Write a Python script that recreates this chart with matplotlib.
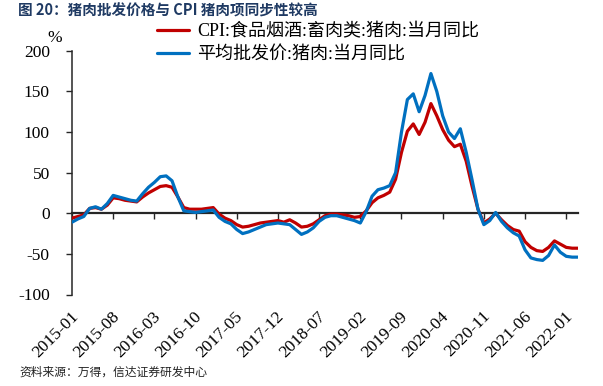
import numpy as np
import matplotlib
matplotlib.use('Agg')
import matplotlib.pyplot as plt
from matplotlib.transforms import ScaledTranslation

plt.rcParams['axes.unicode_minus'] = False

# CPI: food & tobacco & liquor: livestock meat: pork, YoY (%), monthly 2015-01 .. 2022-03
cpi_pork = [-6, -4, -2, 6, 7, 5, 10, 19, 18, 16, 15, 14,
            20, 25, 29, 33, 34, 32, 20, 7, 5, 5, 5, 6,
            7, -1, -6, -9, -14, -17, -16, -14, -12, -11, -10, -9,
            -11, -8, -12, -17, -16, -13, -8, -3, -1, -1, -2, -3,
            -5, -4, 3, 13, 19, 22, 26, 42, 75, 101, 110, 97,
            112, 135, 120, 103, 90, 82, 85, 64, 33, 5, -12, -7,
            0, -8, -15, -20, -22, -35, -42, -46, -47, -42, -34, -38,
            -42, -43, -43]

# average wholesale price: pork, YoY (%)
wholesale_pork = [-11, -7, -4, 6, 8, 5, 12, 22, 20, 18, 16, 15,
                  24, 32, 38, 45, 46, 40, 20, 3, 2, 1, 2, 3,
                  4, -5, -10, -13, -20, -25, -23, -20, -17, -14, -13, -12,
                  -13, -14, -20, -26, -23, -18, -10, -5, -3, -3, -5, -7,
                  -9, -12, 2, 21, 29, 31, 34, 50, 100, 140, 147, 125,
                  145, 172, 150, 120, 100, 92, 104, 75, 41, 5, -14, -9,
                  1, -10, -18, -24, -28, -45, -55, -57, -58, -52, -39, -48,
                  -53, -54, -54]

tick_labels = ['2015-01', '2015-08', '2016-03', '2016-10', '2017-05', '2017-12',
               '2018-07', '2019-02', '2019-09', '2020-04', '2020-11', '2021-06',
               '2022-01']
tick_step = 7

series_names = ['CPI:食品烟酒:畜肉类:猪肉:当月同比', '平均批发价:猪肉:当月同比']

serif = ['Liberation Serif', 'Noto Sans CJK SC']
cjk = ['Noto Sans CJK SC', 'DejaVu Sans']

fig = plt.figure(figsize=(6.03, 3.86), dpi=100)
ax = fig.add_axes([72 / 603, 1 - 294.5 / 386, (578 - 72) / 603, (294.5 - 50.8) / 386])

x = np.arange(len(cpi_pork))
ax.plot(x, cpi_pork, color='#C00000', lw=2.3, solid_joinstyle='round',
        solid_capstyle='round', label=series_names[0], zorder=3)
ax.plot(x, wholesale_pork, color='#0070C0', lw=2.3, solid_joinstyle='round',
        solid_capstyle='round', label=series_names[1], zorder=4)

ax.set_xlim(0, len(cpi_pork) - 1)
ax.set_ylim(-100, 200)
ax.set_yticks(np.arange(-100, 201, 50))
ax.set_yticklabels([str(v) for v in range(-100, 201, 50)], fontfamily=serif, fontsize=12.5)

for s in ['top', 'right']:
    ax.spines[s].set_visible(False)
ax.spines['left'].set_linewidth(1.1)
ax.spines['left'].set_color('#262626')
ax.spines['bottom'].set_position(('data', 0))
ax.spines['bottom'].set_linewidth(1.6)
ax.spines['bottom'].set_color('#262626')
ax.spines['bottom'].set_zorder(2)

ticks = np.arange(len(tick_labels)) * tick_step
ax.set_xticks(ticks)
ax.tick_params(axis='x', direction='out', length=4, width=1, color='#262626', labelbottom=False)
ax.tick_params(axis='y', direction='out', length=4, width=1, color='#262626', pad=12)

# date labels sit below the plot, ticks stay on the zero line
sec = ax.secondary_xaxis('bottom')
sec.spines['bottom'].set_visible(False)
sec.set_xticks(ticks)
sec.set_xticklabels(tick_labels, fontfamily=serif, fontsize=12.5, rotation=45,
                    ha='right', va='center', rotation_mode='anchor')
sec.tick_params(length=0, pad=14)
shift = ScaledTranslation(4 / 100, 0, fig.dpi_scale_trans)
for lbl in sec.get_xticklabels():
    lbl.set_transform(lbl.get_transform() + shift)

ax.legend(loc='upper left', bbox_to_anchor=(150 / 603, 1 - 16 / 386),
          bbox_transform=fig.transFigure, frameon=False, prop={'family': serif, 'size': 13},
          handlelength=1.75, handletextpad=0.45, labelspacing=0.35, borderaxespad=0)

fig.text(55 / 603, 1 - 38 / 386, '%', fontfamily=serif, fontsize=12.5, ha='center', va='center')
fig.text(18 / 603, 1 - 11 / 386, '图 20：猪肉批发价格与 CPI 猪肉项同步性较高', fontfamily=cjk,
         fontsize=10.5, fontweight='bold', color='#1F3A63', ha='left', va='center')
fig.text(19 / 603, 1 - 372 / 386, '资料来源：万得，信达证券研发中心', fontfamily=cjk,
         fontsize=8.5, style='italic', color='#222222', ha='left', va='center')

fig.savefig('out.png', dpi=100)
